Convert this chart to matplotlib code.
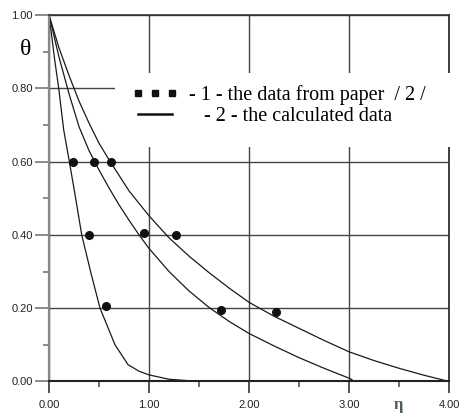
import matplotlib.pyplot as plt
from matplotlib.lines import Line2D
from matplotlib.patches import Rectangle

# --- data ---
# calculated curves (eta, theta)
eta_c1 = [0, 0.057, 0.097, 0.147, 0.2, 0.26, 0.327, 0.42, 0.51, 0.66, 0.79, 0.9, 1.0, 1.2, 1.4]
theta_c1 = [1, 0.877, 0.8, 0.686, 0.605, 0.51, 0.4, 0.295, 0.2, 0.1, 0.046, 0.028, 0.018, 0.006, 0.002]

eta_c2 = [0, 0.1, 0.2, 0.3, 0.4, 0.5, 0.6, 0.7, 0.8, 0.9, 1.0, 1.2, 1.4, 1.6, 1.8,
          2.0, 2.25, 2.5, 2.75, 3.0, 3.03]
theta_c2 = [1, 0.885, 0.785, 0.695, 0.63, 0.577, 0.528, 0.482, 0.44, 0.4, 0.363, 0.3, 0.247,
            0.202, 0.164, 0.131, 0.097, 0.065, 0.036, 0.009, 0.005]

eta_c3 = [0, 0.1, 0.2, 0.3, 0.4, 0.5, 0.6, 0.8, 1.0, 1.2, 1.4, 1.6, 1.8, 2.0, 2.25,
          2.5, 2.75, 3.0, 3.25, 3.5, 3.75, 4.0]
theta_c3 = [1, 0.91, 0.835, 0.765, 0.705, 0.65, 0.605, 0.52, 0.452, 0.392, 0.342, 0.297,
            0.255, 0.216, 0.178, 0.145, 0.112, 0.081, 0.057, 0.036, 0.017, 0.0]

# data from paper /2/
eta_pts = [0.24, 0.45, 0.615, 0.40, 0.95, 1.27, 0.565, 1.72, 2.27]
theta_pts = [0.60, 0.60, 0.60, 0.40, 0.405, 0.40, 0.205, 0.195, 0.19]

x_ticks = [0, 1, 2, 3, 4]
y_ticks = [0, 0.2, 0.4, 0.6, 0.8, 1.0]

fig = plt.figure(figsize=(4.59, 4.16), dpi=100)
ax = fig.add_axes([0.1068, 0.083, 0.8715, 0.881])

for x, y in [(eta_c1, theta_c1), (eta_c2, theta_c2), (eta_c3, theta_c3)]:
    ax.plot(x, y, color="#1a1a1a", lw=0.9, zorder=2)
ax.plot(eta_pts, theta_pts, ls="none", marker="o", ms=5.5, color="#111111", zorder=3)

ax.set_xlim(0, 4)
ax.set_ylim(0, 1)
ax.set_xticks(x_ticks)
ax.set_xticklabels(["%.2f" % v for v in x_ticks])
ax.set_yticks(y_ticks)
ax.set_yticklabels(["%.2f" % v for v in y_ticks])
ax.set_xticks([0.5, 1.5, 2.5, 3.5], minor=True)
ax.set_yticks([0.1, 0.3, 0.5, 0.7, 0.9], minor=True)

ax.tick_params(axis="both", which="major", direction="out", labelsize=8, colors="#333333")
ax.tick_params(axis="y", which="major", length=10, width=1.2, pad=1.5, color="#777777")
ax.tick_params(axis="x", which="major", length=8.6, width=1.2, pad=5, color="#333333")
ax.tick_params(axis="y", which="minor", length=4.3, width=1.2, color="#777777")
ax.tick_params(axis="x", which="minor", length=4.3, width=1.2, color="#555555")
for lab in ax.get_xticklabels() + ax.get_yticklabels():
    lab.set_family("Liberation Sans")
    lab.set_color("#222222")

ax.grid(True, which="major", color="#444444", lw=1.0)
ax.set_axisbelow(True)

ax.spines["left"].set_color("#888888")
ax.spines["left"].set_linewidth(1.6)
ax.spines["bottom"].set_color("#222222")
ax.spines["bottom"].set_linewidth(1.5)
ax.spines["top"].set_color("#333333")
ax.spines["top"].set_linewidth(1.2)
ax.spines["right"].set_color("#222222")
ax.spines["right"].set_linewidth(1.2)

# white area behind the legend text
ax.add_patch(Rectangle((0.165, 0.64), 0.845, 0.202, transform=ax.transAxes,
                       facecolor="white", edgecolor="none", clip_on=False, zorder=4))

handles = [Line2D([], [], ls="none", marker="s", ms=5, color="#111111"),
           Line2D([], [], color="#111111", lw=1.8)]
labels = ["- 1 - the data from paper  / 2 /", "   - 2 - the calculated data"]
leg = ax.legend(handles, labels, loc="center left", bbox_to_anchor=(0.2075, 0.752),
                frameon=False, numpoints=3, handlelength=2.3, handletextpad=0.55,
                borderpad=0, borderaxespad=0, labelspacing=0.1,
                prop={"family": "Liberation Serif", "size": 14.5})
leg.set_zorder(5)

fig.text(0.0566, 0.88, "θ", family="Liberation Serif", fontsize=17, ha="center", va="center")
fig.text(0.869, 0.026, "η", family="Liberation Serif", fontsize=12, fontweight="bold",
         color="#4d5e55", ha="center", va="center")

plt.savefig("out.png", dpi=100)
